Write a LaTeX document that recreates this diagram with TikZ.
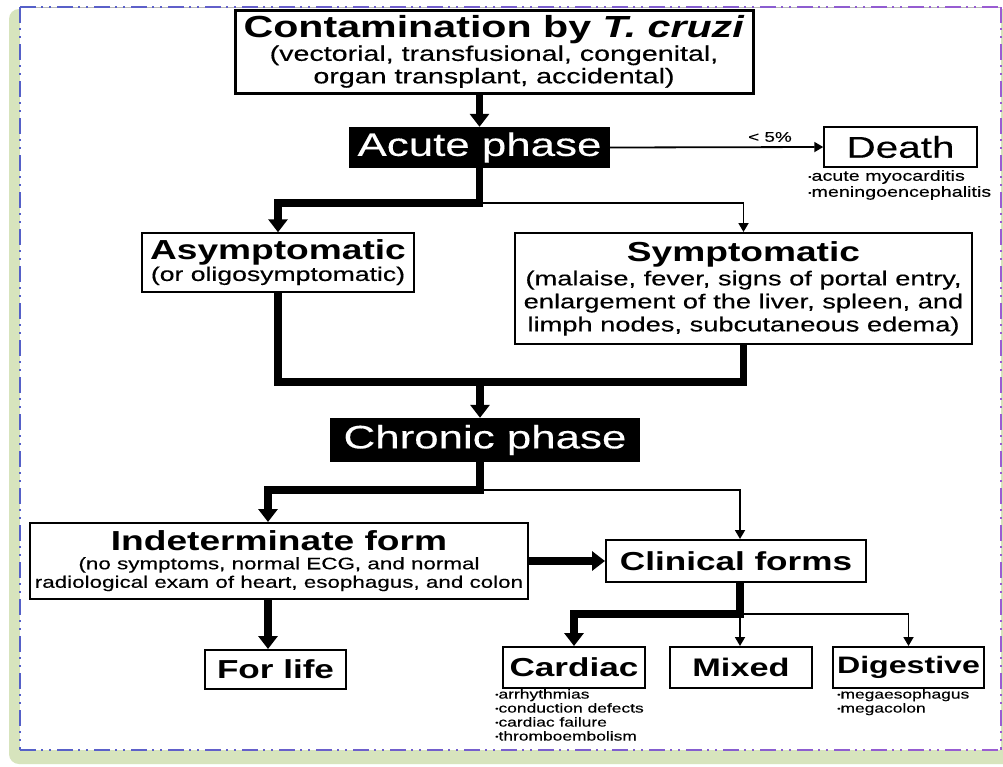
\documentclass[tikz,border=0pt]{standalone}
\usepackage{fontspec}
\setmainfont{Liberation Sans}[FakeStretch=1.35, UprightFeatures={FakeBold=0.3}]
\usetikzlibrary{arrows.meta}
\definecolor{framegreen}{HTML}{D7E4BD}
\definecolor{frameblue}{HTML}{5560C8}
\definecolor{framepurple}{HTML}{9A5CD2}
\newcommand\fs[2]{\fontsize{#1}{#2}\selectfont}
\newcommand\bul{\raisebox{1.5pt}{\fontsize{7}{7}\selectfont •}}

\begin{document}
\begin{tikzpicture}[x=1pt,y=-1pt,
  box/.style={draw, line width=2pt, fill=white, align=center, inner sep=0pt},
  darkbox/.style={fill=black, text=white, inner sep=0pt},
  heavy/.style={line width=7.5pt},
  heavy arrow/.style={line width=7.5pt, -{Triangle[width=19pt,length=13pt]}},
  light/.style={line width=1.8pt},
  light arrow/.style={line width=1.8pt, -{Triangle[width=10pt,length=9pt]}},
  notes/.style={align=left, inner sep=0pt, anchor=north west},
  dashdot/.style={line width=1.6pt, dash pattern=on 16pt off 5pt on 2pt off 6pt on 2pt off 6pt}]

\useasboundingbox (0,0) rectangle (1003,766);

% page background and frame
\fill[white] (0,0) rectangle (1003,766);
\fill[framegreen, rounded corners=10pt] (9,9) rectangle (1030,764);
\fill[white] (20,7) rectangle (1001,750);
\draw[gray!55, line width=0.7pt] (20,7) -- (1001,7);
\draw[dashdot, frameblue] (20,7) -- (20,750);
\draw[dashdot, framepurple] (1001,7) -- (1001,750);
\foreach \k in {0,...,26}{
  \pgfmathsetmacro\mixpct{100-\k*100/26}
  \draw[dashdot, color=frameblue!\mixpct!framepurple]
    ({20+37*\k},750) -- ({min(20+37*(\k+1),1001)},750);
  \draw[dashdot, color=frameblue!\mixpct!framepurple]
    ({20+37*\k},7) -- ({min(20+37*(\k+1),1001)},7);
}

% boxes
\node[box, line width=3pt, minimum width=518pt, minimum height=83pt, font=\fs{21.2}{22.5}]
  (contam) at (494,51.5)
  {{\fs{30.5}{31}\bfseries Contamination by \textit{T. cruzi}}\\[1pt]
   (vectorial, transfusional, congenital,\\ organ transplant, accidental)};

\node[darkbox, minimum width=261pt, minimum height=41pt, font=\fs{32.5}{34}]
  (acute) at (479.5,147.5) {Acute phase};

\node[box, line width=1.5pt, minimum width=153pt, minimum height=40pt, font=\fs{30}{32}]
  (death) at (900.5,147) {Death};
\node[notes, font=\fs{14.6}{16}] (deathnotes) at (808,170)
  {\bul acute myocarditis\\ \bul meningoencephalitis};

\node[box, line width=1.5pt, minimum width=272pt, minimum height=59pt, font=\fs{19.7}{21}]
  (asym) at (278,262.5)
  {{\fs{27.5}{28}\bfseries Asymptomatic}\\ (or oligosymptomatic)};

\node[box, minimum width=457pt, minimum height=111pt, font=\fs{20.2}{23}]
  (sym) at (743.5,288.5)
  {{\fs{27.5}{28}\bfseries Symptomatic}\\[1pt]
   (malaise, fever, signs of portal entry,\\
   enlargement of the liver, spleen, and\\
   limph nodes, subcutaneous edema)};

\node[darkbox, minimum width=310pt, minimum height=44pt, font=\fs{32.5}{34}]
  (chronic) at (485,440) {Chronic phase};

\node[box, minimum width=498pt, minimum height=76pt, font=\fs{16.6}{18.5}]
  (indet) at (279,561)
  {{\fs{27.5}{28}\bfseries Indeterminate form}\\
   (no symptoms, normal ECG, and normal\\
   radiological exam of heart, esophagus, and colon};

\node[box, minimum width=260pt, minimum height=42pt, font=\fs{26}{27}\bfseries]
  (clin) at (736,561) {Clinical forms};

\node[box, minimum width=141pt, minimum height=39pt, font=\fs{26}{27}\bfseries]
  (forlife) at (275.5,669.5) {For life};

\node[box, minimum width=142pt, minimum height=41pt, font=\fs{26}{27}\bfseries]
  (cardiac) at (574,667.5) {Cardiac};
\node[notes, font=\fs{12.9}{14}] (cardiacnotes) at (495,689)
  {\bul arrhythmias\\ \bul conduction defects\\ \bul cardiac failure\\ \bul thromboembolism};

\node[box, minimum width=142pt, minimum height=41pt, font=\fs{25.4}{27}\bfseries]
  (mixed) at (741,667.5) {Mixed};

\node[box, minimum width=151pt, minimum height=41pt, font=\fs{23.8}{27}\bfseries]
  (digest) at (908.5,667.5) {Digestive};
\node[notes, font=\fs{12.9}{14}] (digestnotes) at (837,689)
  {\bul megaesophagus\\ \bul megacolon};

% junctions of the connectors
\coordinate (j1) at (479.5,203);
\coordinate (j2) at (480,382);
\coordinate (j3) at (480,490);
\coordinate (j4) at (740,614);
\coordinate (lx) at (268,0);

% connectors
\draw[heavy arrow] (contam.south -| acute) -- (acute.north);
\draw[light arrow] (acute.east) -- node[pos=0.75, above=1pt, font=\fs{14}{15}] (pct) {< 5\%} (death.west);
\draw[heavy arrow] (acute.south) -- (j1) -| (asym.north);
\draw[light arrow] (j1) -| (sym.north);
\draw[heavy] (asym.south) |- (j2) -| (sym.south);
\draw[heavy arrow] (j2) -- (chronic.north -| j2);
\draw[heavy arrow] (chronic.south -| j3) -- (j3) -| (indet.north -| lx);
\draw[light arrow] (j3) -| (clin.north -| j4);
\draw[heavy arrow] (indet.east) -- (clin.west);
\draw[heavy arrow] (indet.south -| lx) -- (forlife.north -| lx);
\draw[heavy arrow] (clin.south -| j4) -- (j4) -| (cardiac.north);
\draw[light arrow] (j4) -- (mixed.north -| j4);
\draw[light arrow] (j4) -| (digest.north);
\end{tikzpicture}
\end{document}
